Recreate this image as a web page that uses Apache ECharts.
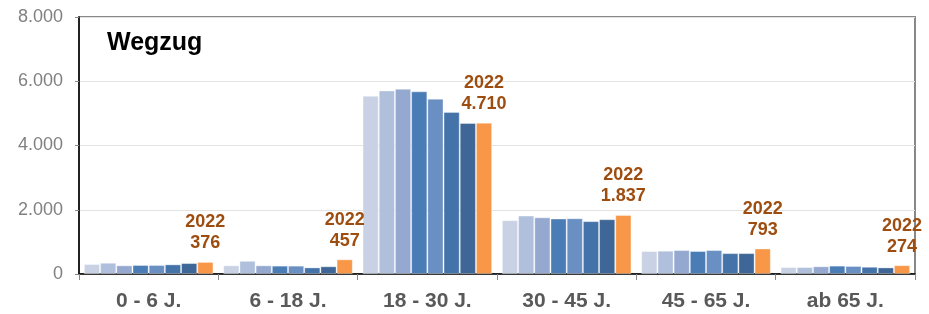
<!DOCTYPE html>
<html>
<head>
<meta charset="utf-8">
<script src="https://cdn.jsdelivr.net/npm/echarts@6/dist/echarts.min.js"></script>
<style>
  html, body { margin: 0; padding: 0; background: #fff; }
  #chart { width: 929px; height: 314px; }
</style>
</head>
<body>
<div id="chart"></div>
<script>
var categories = ['0 - 6 J.', '6 - 18 J.', '18 - 30 J.', '30 - 45 J.', '45 - 65 J.', 'ab 65 J.'];
var years = ['2015', '2016', '2017', '2018', '2019', '2020', '2021', '2022'];
// Wegzug je Altersgruppe, ein Array pro Jahr
var v2015 = [310, 270, 5550, 1675, 715, 215];
var v2016 = [350, 410, 5715, 1820, 725, 215];
var v2017 = [270, 270, 5765, 1765, 745, 240];
var v2018 = [280, 260, 5685, 1725, 715, 260];
var v2019 = [280, 260, 5455, 1735, 745, 250];
var v2020 = [300, 205, 5045, 1645, 650, 225];
var v2021 = [340, 240, 4700, 1705, 650, 205];
var v2022 = [376, 457, 4710, 1837, 793, 274];
var yTicks = [0, 2000, 4000, 6000, 8000];

var colors = ['#c9d2e5', '#b0c0dc', '#95a9d0', '#4a7db6', '#6a8fc3', '#4373a8', '#3e6696', '#f79747'];
var values = [v2015, v2016, v2017, v2018, v2019, v2020, v2021, v2022];

function fmt(n) {
  return String(n).replace(/\B(?=(\d{3})+(?!\d))/g, '.');
}

var series = [];
for (var i = 0; i < years.length; i++) {
  var last = i === years.length - 1;
  series.push({
    name: years[i],
    type: 'bar',
    data: values[i],
    barGap: '0%',
    barCategoryGap: '7%',
    itemStyle: { color: colors[i], borderColor: 'rgba(255,255,255,0.35)', borderWidth: 1 },
    label: last ? {
      show: true,
      position: 'top',
      distance: 8,
      formatter: function (p) { return p.seriesName + '\n' + fmt(p.value); },
      color: '#9e4d10',
      fontFamily: 'Liberation Sans, Arial, sans-serif',
      fontWeight: 'bold',
      fontSize: 18,
      lineHeight: 21
    } : { show: false }
  });
}

var myChart = echarts.init(document.getElementById('chart'));
var option = {
  animation: false,
  textStyle: { fontFamily: 'Liberation Sans, Arial, sans-serif' },
  title: {
    text: 'Wegzug',
    left: 102,
    top: 26,
    textStyle: { fontSize: 25, fontWeight: 'bold', color: '#000' }
  },
  grid: {
    left: 79, right: 14, top: 17, bottom: 40,
    show: true, borderColor: '#888', borderWidth: 2, backgroundColor: 'transparent'
  },
  xAxis: {
    type: 'category',
    data: categories,
    axisLine: { lineStyle: { color: '#000', width: 1.5 } },
    axisTick: { show: true, length: 6, lineStyle: { color: '#888' } },
    axisLabel: { fontSize: 21, fontWeight: 'bold', color: '#595959', margin: 17 }
  },
  yAxis: {
    type: 'value',
    min: yTicks[0],
    max: yTicks[yTicks.length - 1],
    interval: 2000,
    axisLine: { show: true, lineStyle: { color: '#000', width: 1.5 } },
    axisTick: { show: true, length: 4, lineStyle: { color: '#888' } },
    splitLine: { lineStyle: { color: '#e3e3e3' } },
    axisLabel: { fontSize: 18, color: '#808080', margin: 16, formatter: function (v) { return fmt(v); } }
  },
  series: series
};
myChart.setOption(option);
</script>
</body>
</html>
